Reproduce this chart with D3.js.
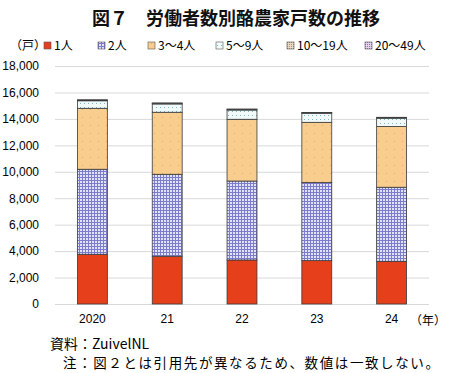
<!DOCTYPE html>
<html>
<head>
<meta charset="utf-8">
<script src="https://cdn.jsdelivr.net/npm/d3@7"></script>
<style>
  body { margin: 0; background: #fff; }
  svg { font-family: "Noto Sans CJK JP", "Noto Sans", sans-serif; }
</style>
</head>
<body>
<div id="chart"></div>
<script>
var years = ["2020", "21", "22", "23", "24"];
var seriesNames = ["1人", "2人", "3〜4人", "5〜9人", "10〜19人", "20〜49人"];
var p1 = [3760, 3610, 3330, 3280, 3230];
var p2 = [6430, 6200, 5970, 5900, 5600];
var p3to4 = [4610, 4690, 4670, 4560, 4590];
var p5to9 = [570, 630, 700, 680, 630];
var p10to19 = [60, 60, 60, 60, 60];
var p20to49 = [10, 10, 10, 10, 10];
var yTicks = [0, 2000, 4000, 6000, 8000, 10000, 12000, 14000, 16000, 18000];

var margin = {top: 66, right: 21, bottom: 69, left: 55},
    width = 450 - margin.left - margin.right,
    height = 373 - margin.top - margin.bottom;

var svgRoot = d3.select("#chart")
    .append("svg")
        .attr("width", 450)
        .attr("height", 373);

// fill patterns
var defs = svgRoot.append("defs");

var pat2 = defs.append("pattern").attr("id", "pat2")
    .attr("patternUnits", "userSpaceOnUse").attr("width", 3).attr("height", 3);
pat2.append("rect").attr("width", 3).attr("height", 3).attr("fill", "#e2e2f8");
pat2.append("rect").attr("x", 0).attr("y", 0).attr("width", 3).attr("height", 1).attr("fill", "#7c7ccc");
pat2.append("rect").attr("x", 0).attr("y", 0).attr("width", 1).attr("height", 3).attr("fill", "#7c7ccc");

var pat3 = defs.append("pattern").attr("id", "pat3")
    .attr("patternUnits", "userSpaceOnUse").attr("width", 8).attr("height", 8);
pat3.append("rect").attr("width", 8).attr("height", 8).attr("fill", "#f9cd8e");
pat3.append("rect").attr("x", 3).attr("y", 3).attr("width", 1).attr("height", 1).attr("fill", "#e0a860");

var pat5 = defs.append("pattern").attr("id", "pat5")
    .attr("patternUnits", "userSpaceOnUse").attr("width", 4).attr("height", 4);
pat5.append("rect").attr("width", 4).attr("height", 4).attr("fill", "#f2f9f9");
pat5.append("rect").attr("x", 1).attr("y", 1).attr("width", 1).attr("height", 1).attr("fill", "#7ab8c0");

var pat10 = defs.append("pattern").attr("id", "pat10")
    .attr("patternUnits", "userSpaceOnUse").attr("width", 2).attr("height", 2);
pat10.append("rect").attr("width", 2).attr("height", 2).attr("fill", "#e8dcc8");
pat10.append("rect").attr("width", 1).attr("height", 1).attr("fill", "#a89070");

var pat20 = defs.append("pattern").attr("id", "pat20")
    .attr("patternUnits", "userSpaceOnUse").attr("width", 2).attr("height", 2);
pat20.append("rect").attr("width", 2).attr("height", 2).attr("fill", "#e4d4ec");
pat20.append("rect").attr("width", 1).attr("height", 1).attr("fill", "#9870b0");

var fills = ["#e63f1c", "url(#pat2)", "url(#pat3)", "url(#pat5)", "url(#pat10)", "url(#pat20)"];

var svg = svgRoot.append("g")
    .attr("transform", "translate(" + margin.left + "," + margin.top + ")");

var x = d3.scaleBand()
    .domain(years)
    .range([0, width])
    .paddingInner(0.6)
    .paddingOuter(0.3);

var y = d3.scaleLinear()
    .domain([0, 18000])
    .range([height, 0]);

// gridlines
svg.append("g")
    .selectAll("line")
    .data(yTicks)
    .enter()
    .append("line")
        .attr("x1", 0)
        .attr("x2", width)
        .attr("y1", function(d) { return y(d) + 0.5 })
        .attr("y2", function(d) { return y(d) + 0.5 })
        .attr("stroke", "#d9d9d9")
        .attr("stroke-width", 1);

var yAxis = svg.append("g")
    .call(d3.axisLeft(y).tickValues(yTicks).tickSize(0).tickPadding(16)
        .tickFormat(d3.format(",")));
yAxis.select(".domain").remove();
yAxis.selectAll("text")
    .attr("font-family", "'Liberation Sans', Arial, sans-serif")
    .attr("font-size", 12)
    .attr("fill", "#000");

var xAxis = svg.append("g")
    .attr("transform", "translate(0," + height + ")")
    .call(d3.axisBottom(x).tickSize(0).tickPadding(10));
xAxis.select(".domain").remove();
xAxis.selectAll("text")
    .attr("font-family", "'Liberation Sans', Arial, sans-serif")
    .attr("font-size", 12)
    .attr("fill", "#000");

// stacked bars
var table = years.map(function(yr, i) {
    return {year: yr, s0: p1[i], s1: p2[i], s2: p3to4[i], s3: p5to9[i], s4: p10to19[i], s5: p20to49[i]};
});
var keys = ["s0", "s1", "s2", "s3", "s4", "s5"];
var stacked = d3.stack().keys(keys)(table);

svg.append("g")
    .selectAll("g")
    .data(stacked)
    .enter()
    .append("g")
        .attr("fill", function(d, i) { return fills[i] })
    .selectAll("rect")
    .data(function(d) { return d })
    .enter()
    .append("rect")
        .attr("x", function(d) { return x(d.data.year) })
        .attr("y", function(d) { return y(d[1]) })
        .attr("width", x.bandwidth())
        .attr("height", function(d) { return y(d[0]) - y(d[1]) })
        .attr("stroke", "#3a3a3a")
        .attr("stroke-width", 0.8);

// title
svgRoot.append("text")
    .attr("x", 236)
    .attr("y", 25)
    .attr("text-anchor", "middle")
    .attr("font-size", 18)
    .attr("font-weight", "bold")
    .attr("fill", "#111")
    .text("図７　労働者数別酪農家戸数の推移");

// legend
svgRoot.append("text")
    .attr("x", 10)
    .attr("y", 50)
    .attr("font-size", 12)
    .text("（戸）");

var legendX = [44, 98, 148, 216, 287, 365];
var legend = svgRoot.append("g")
    .selectAll("g")
    .data(seriesNames)
    .enter()
    .append("g")
        .attr("transform", function(d, i) { return "translate(" + legendX[i] + ",40)" });
legend.append("rect")
    .attr("width", 7)
    .attr("height", 7)
    .attr("y", 2)
    .attr("fill", function(d, i) { return fills[i] })
    .attr("stroke", "#555")
    .attr("stroke-width", 0.6);
legend.append("text")
    .attr("x", 10)
    .attr("y", 10)
    .attr("font-size", 12)
    .text(function(d) { return d });

svgRoot.append("text")
    .attr("x", 410)
    .attr("y", 325)
    .attr("font-size", 12)
    .text("（年）");

// notes
svgRoot.append("text")
    .attr("x", 50)
    .attr("y", 349)
    .attr("font-size", 14)
    .text("資料：ZuivelNL");

svgRoot.append("text")
    .attr("x", 63)
    .attr("y", 368)
    .attr("font-size", 13.5)
    .attr("letter-spacing", 1.6)
    .text("注：図２とは引用先が異なるため、数値は一致しない。");
</script>
</body>
</html>
